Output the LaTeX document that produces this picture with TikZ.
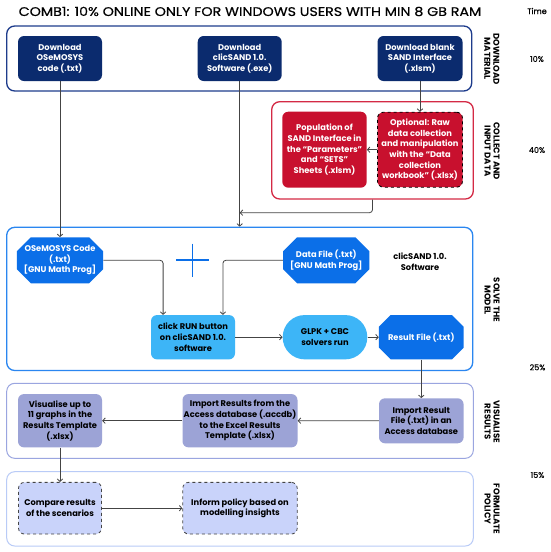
\documentclass[tikz,border=0pt]{standalone}
\usepackage{fontspec}
\setmainfont{Poppins}
\newfontfamily\popmed[FakeBold=0.5]{Poppins}
\usetikzlibrary{arrows.meta,shapes.misc,calc}
\definecolor{navy}{HTML}{0B2B6E}
\definecolor{navyb}{HTML}{1E3C8C}
\definecolor{redf}{HTML}{C8102E}
\definecolor{redb}{HTML}{D42A45}
\definecolor{bblue}{HTML}{0B6FE8}
\definecolor{bblueb}{HTML}{2A86F0}
\definecolor{lblue}{HTML}{3DB5F7}
\definecolor{peri}{HTML}{9CA3D6}
\definecolor{perib}{HTML}{9AA5E0}
\definecolor{lav}{HTML}{C9D3FA}
\definecolor{lavb}{HTML}{B9CBF7}
\definecolor{connc}{HTML}{444444}
\tikzset{
  secbox/.style={rectangle, rounded corners=8pt, line width=1pt, inner sep=0pt},
  nodetext/.style={align=center, font=\fontsize{8.3}{10.7}\selectfont\bfseries, inner sep=0pt},
  rbox/.style={nodetext, rectangle, rounded corners=6pt},
  cbox/.style={nodetext, chamfered rectangle, chamfered rectangle xsep=7pt, chamfered rectangle ysep=7pt, chamfered rectangle corners={north west,north east,south west,south east}},
  seclabel/.style={rotate=-90, align=center, font=\fontsize{8.5}{9}\selectfont\bfseries, inner sep=0pt},
  pct/.style={font=\fontsize{8}{9}\selectfont\popmed, inner sep=0pt},
  conn/.style={draw=connc, line width=0.8pt, -{Straight Barb[length=2.5pt,width=5.5pt]}},
  line/.style={draw=connc, line width=0.8pt},
}
\begin{document}
\begin{tikzpicture}[x=1pt,y=-1pt]
\useasboundingbox (0,0) rectangle (550,552);
\fill[white] (0,0) rectangle (550,552);
% title
\node[anchor=west, inner sep=0pt, font=\fontsize{12.5}{14}\selectfont\popmed] (title) at (18.5,11.5) {\scalebox{1.14}[1]{COMB1: 10\% ONLINE ONLY FOR WINDOWS USERS WITH MIN 8 GB RAM}};
\node[pct] (time) at (537,11) {Time};
% section boxes
\node[secbox, draw=navyb, line width=1.3pt, minimum width=465pt, minimum height=65pt] (dl) at (239.2,58.5) {};
\node[secbox, draw=redb, line width=1.3pt, minimum width=201.6pt, minimum height=97.3pt] (col) at (372.5,150.35) {};
\node[secbox, draw=bblueb, line width=1.3pt, minimum width=466pt, minimum height=143.2pt] (solve) at (239.7,298.9) {};
\node[secbox, draw=perib, minimum width=466.6pt, minimum height=75pt] (vis) at (240,420.8) {};
\node[secbox, draw=lavb, minimum width=466.6pt, minimum height=74.3pt] (form) at (240,508.85) {};
% section labels
\node[seclabel] (l1) at (492,59) {DOWNLOAD\\MATERIAL};
\node[seclabel] (l2) at (492,151) {COLLECT AND\\INPUT DATA};
\node[seclabel] (l3) at (492,300) {SOLVE THE\\MODEL};
\node[seclabel] (l4) at (492,421.7) {VISUALISE\\RESULTS};
\node[seclabel] (l5) at (492,509) {FORMULATE\\POLICY};
% percentages
\node[pct] (p1) at (537,59) {10\%};
\node[pct] (p2) at (537,150) {40\%};
\node[pct] (p3) at (537.5,367.3) {25\%};
\node[pct] (p4) at (537.5,475) {15\%};
% download nodes
\node[rbox, fill=navy, text=white, minimum width=84pt, minimum height=45pt] (d1) at (60,58.5) {Download\\OSeMOSYS\\code (.txt)};
\node[rbox, fill=navy, text=white, minimum width=84pt, minimum height=45pt] (d2) at (239.7,58.5) {Download\\clicSAND 1.0.\\Software (.exe)};
\node[rbox, fill=navy, text=white, minimum width=85pt, minimum height=45pt] (d3) at (420,58.5) {Download blank\\SAND Interface\\(.xlsm)};
% collect nodes
\node[rbox, fill=redf, text=white, minimum width=84.4pt, minimum height=76pt] (pop) at (324.5,149.7) {Population of\\SAND Interface in\\the ``Parameters''\\and ``SETS''\\Sheets (.xlsm)};
\node[rbox, fill=redf, text=white, draw=black, dashed, line width=0.8pt, minimum width=85pt, minimum height=75pt] (opt) at (420,149.7) {Optional: Raw\\data collection\\and manipulation\\with the ``Data\\collection\\workbook'' (.xlsx)};
% solve nodes
\node[cbox, fill=bblue, text=white, minimum width=84.6pt, minimum height=46pt] (code) at (60,260.3) {OSeMOSYS Code\\(.txt)\\{}[GNU Math Prog]};
\node[cbox, fill=bblue, text=white, minimum width=84pt, minimum height=46pt] (data) at (326.3,260.3) {Data File (.txt)\\{}[GNU Math Prog]};
\node[nodetext] (soft) at (420,261.5) {clicSAND 1.0.\\Software};
\coordinate (plus) at (192.7,260);
\draw[draw=bblue, line width=1.2pt] ($(plus)+(-16.5,0)$) -- ($(plus)+(16.5,0)$);
\draw[draw=bblue, line width=1.2pt] ($(plus)+(0,-16.5)$) -- ($(plus)+(0,16.5)$);
\node[rbox, fill=lblue, text=black, minimum width=84pt, minimum height=44.3pt] (run) at (193,337.2) {click RUN button\\on clicSAND 1.0.\\software};
\node[nodetext, rectangle, rounded corners=22pt, fill=lblue, text=black, minimum width=84.6pt, minimum height=44.3pt] (glpk) at (325,337.2) {GLPK + CBC\\solvers run};
\node[cbox, fill=bblue, text=white, minimum width=84.7pt, minimum height=44.3pt] (res) at (421.3,337.2) {Result File (.txt)};
% visualise nodes
\node[rbox, fill=peri, text=black, minimum width=84pt, minimum height=53.3pt] (vg) at (60,420.7) {Visualise up to\\11 graphs in the\\Results Template\\(.xlsx)};
\node[rbox, fill=peri, text=black, minimum width=115pt, minimum height=53.3pt] (ir) at (240,420.7) {Import Results from the\\Access database (.accdb)\\to the Excel Results\\Template (.xlsx)};
\node[rbox, fill=peri, text=black, minimum width=84.6pt, minimum height=45pt] (if) at (421.3,420.8) {Import Result\\File (.txt) in an\\Access database};
% policy nodes
\node[rbox, fill=lav, text=black, draw=connc, dashed, line width=0.8pt, minimum width=83pt, minimum height=51.7pt] (cmp) at (60,508.2) {Compare results\\of the scenarios};
\node[rbox, fill=lav, text=black, draw=connc, dashed, line width=0.8pt, minimum width=114.5pt, minimum height=51.7pt] (inf) at (240,508.2) {Inform policy based on\\modelling insights};
% connectors
\draw[conn] (d1.south) -- (code.north);
\draw[conn] (d2.south) -- (d2.south |- solve.north);
\draw[conn] (d3.south) -- (opt.north);
\draw[conn] (opt.west) -- (pop.east);
\coordinate (join) at (239.7,212.7);
\draw[conn, rounded corners=3pt] (col.south) |- (join);
\draw[conn, rounded corners=3pt] (code.east) -| ($(run.north west)+(12.3,0)$);
\draw[conn, rounded corners=3pt] (data.west) -| ($(run.north east)+(-12.3,0)$);
\draw[conn] (run.east) -- (glpk.west);
\draw[conn] (glpk.east) -- (res.west);
\draw[conn] (res.south) -- (if.north);
\draw[conn] (if.west) -- (ir.east);
\draw[conn] (ir.west) -- (vg.east);
\draw[conn] (vg.south) -- (cmp.north);
\draw[conn] (cmp.east) -- (inf.west);
\end{tikzpicture}
\end{document}
